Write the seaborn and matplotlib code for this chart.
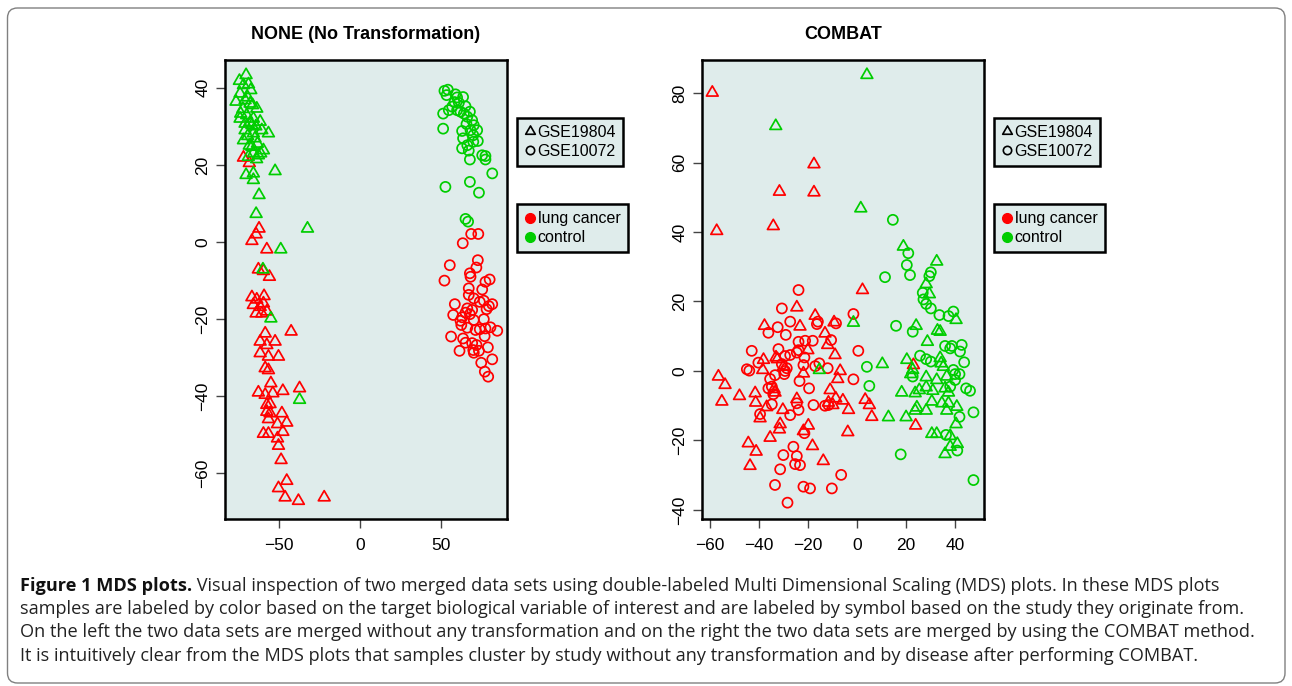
import matplotlib
matplotlib.use("Agg")
import matplotlib.pyplot as plt
from matplotlib.lines import Line2D
from matplotlib.patches import FancyBboxPatch
from matplotlib.path import Path
import pandas as pd
import seaborn as sns

## Data

# NONE (No Transformation) panel
none_tri_ctrl_x = [-70.5, -74.6, -72.1, -69.0, -67.6, -74.2, -76.7, -71.1, -68.0, -63.9, -73.8, -70.1, -66.0,
                   -61.8, -74.2, -71.1, -66.9, -60.8, -56.7, -71.1, -66.0, -72.1, -65.0, -66.9, -59.8, -66.0,
                   -62.9, -69.1, -70.5, -66.0, -66.0, -52.6, -62.5, -64.3, -32.6, -49.1, -60.1, -55.2, -37.5,
                   -69.5, -66.5, -72.5, -68.0, -64.5, -69.5, -63.5, -68.5, -64.0, -61.5]
none_tri_ctrl_y = [43.3, 41.8, 40.7, 40.9, 39.4, 38.5, 36.4, 36.8, 35.9, 34.6, 33.3, 32.9, 32.0,
                   31.2, 32.0, 30.7, 30.3, 29.0, 28.2, 29.0, 28.2, 26.4, 26.9, 24.7, 23.8, 23.0,
                   22.5, 22.1, 17.4, 17.8, 16.1, 18.4, 12.2, 7.3, 3.5, -1.9, -7.1, -19.8, -40.9,
                   37.5, 35.5, 34.5, 31.0, 30.0, 27.5, 25.5, 25.0, 21.5, 23.0]

none_tri_case_x = [-72.1, -68.5, -62.5, -64.3, -66.9, -57.7, -62.9, -59.8, -56.1, -66.9, -63.9, -59.4, -66.0,
                   -61.8, -59.8, -64.3, -60.8, -57.7, -58.7, -61.8, -52.6, -57.7, -42.7, -61.8, -56.7, -50.5,
                   -58.7, -56.7, -55.2, -62.9, -58.7, -54.0, -47.8, -37.5, -57.7, -55.7, -57.7, -55.7, -48.4,
                   -56.7, -51.1, -45.4, -59.8, -56.7, -47.8, -51.1, -50.5, -48.9, -45.4, -50.5, -46.4, -38.2,
                   -22.3]
none_tri_case_y = [21.9, 20.5, 3.5, 2.0, 0.3, -1.9, -7.1, -7.5, -9.0, -14.3, -14.9, -14.0, -16.3,
                   -16.8, -15.9, -18.5, -18.5, -18.0, -23.7, -25.8, -25.8, -26.7, -23.2, -28.8, -29.7, -29.7,
                   -32.7, -33.2, -36.6, -39.0, -39.6, -39.2, -38.6, -37.9, -42.2, -42.0, -44.0, -44.4, -44.4,
                   -45.9, -47.2, -46.8, -49.7, -49.7, -49.2, -50.9, -52.8, -56.5, -61.9, -63.8, -66.2, -67.1,
                   -66.2]

none_circ_ctrl_x = [51.9, 54.0, 53.2, 58.7, 59.7, 63.4, 58.1, 60.8, 64.9, 56.7, 54.6, 59.7, 61.8, 63.9,
                    67.6, 51.1, 66.0, 69.0, 65.5, 70.0, 68.0, 72.1, 62.8, 51.1, 69.7, 63.4, 72.5, 69.7,
                    66.0, 62.8, 66.9, 75.2, 77.2, 77.2, 67.6, 81.4, 67.6, 52.5, 73.2, 64.9, 66.5]
none_circ_ctrl_y = [39.2, 39.5, 38.1, 38.3, 37.5, 37.6, 36.3, 36.1, 35.2, 35.1, 34.2, 34.2, 33.8, 33.3,
                    33.8, 33.3, 32.5, 31.6, 30.6, 30.3, 29.0, 29.0, 28.8, 29.4, 27.7, 26.9, 26.2, 26.0,
                    25.1, 24.3, 23.7, 22.5, 22.3, 21.4, 21.4, 17.8, 15.6, 14.3, 12.8, 6.0, 5.3]

none_circ_case_x = [68.4, 72.8, 63.2, 55.2, 72.5, 71.6, 67.6, 68.0, 51.9, 77.2, 79.8, 75.2, 66.9, 66.9,
                    70.0, 73.7, 76.2, 81.4, 58.3, 79.3, 77.9, 66.0, 69.0, 64.9, 67.6, 57.3, 62.8, 61.8,
                    70.0, 76.2, 62.3, 66.0, 71.1, 73.7, 77.2, 80.3, 84.5, 76.7, 56.0, 63.4, 64.9, 69.0,
                    71.7, 69.7, 70.0, 73.2, 78.7, 61.2, 81.4, 74.6, 76.8, 78.9]
none_circ_case_y = [2.1, 2.1, -0.3, -6.0, -4.7, -6.6, -8.1, -9.0, -10.0, -10.3, -9.7, -12.3, -12.0, -13.7,
                    -14.6, -15.5, -15.2, -16.1, -16.1, -16.6, -17.4, -17.2, -17.6, -18.3, -18.7, -18.9, -19.5, -20.4,
                    -20.2, -20.0, -21.5, -22.2, -22.8, -22.6, -22.4, -22.1, -23.0, -24.4, -24.5, -25.0, -26.1, -26.2,
                    -26.7, -28.0, -28.7, -28.2, -27.3, -28.2, -30.4, -31.3, -33.6, -34.9]

# COMBAT panel
combat_tri_case_x = [-59.1, -17.6, -31.7, -17.6, -57.3, -34.2, 2.2, -24.6, -17.1, -9.4, -37.8, -23.3, -13.1,
                     -12.0, -9.0, -20.1, -33.1, -38.2, -32.5, -30.1, -6.9, -21.9, -38.5, -56.6, -53.9, -7.9,
                     -33.9, -11.0, -41.6, -33.5, -48.0, -55.2, -41.4, -24.6, -8.7, -5.8, -11.7, -9.9, -3.5,
                     -36.9, -30.3, -39.6, -31.4, -31.7, -19.9, -21.9, -35.5, -3.8, -44.4, -18.2, -41.2, -43.7,
                     -13.8, 23.0, 3.3, 5.0, 6.0, 23.9]
combat_tri_case_y = [80.1, 59.5, 51.6, 51.4, 40.3, 41.7, 23.3, 18.3, 15.9, 14.0, 13.0, 12.8, 10.8,
                     7.5, 4.6, 6.0, 3.9, 3.2, 3.4, 1.2, 0.0, -0.7, 0.3, -1.6, -4.0, -2.3,
                     -5.2, -5.5, -6.4, -6.2, -7.2, -8.8, -9.1, -8.1, -7.9, -8.5, -9.1, -9.8, -11.2,
                     -10.4, -11.2, -13.6, -15.3, -16.8, -15.7, -17.3, -19.2, -17.6, -20.8, -21.6, -23.2, -27.3,
                     -25.9, 1.7, -8.3, -9.8, -13.2, -15.7]

combat_circ_case_x = [-23.9, -30.7, -27.3, -16.0, -16.4, -8.6, -1.5, -32.4, -36.2, -29.1, -23.9, -21.2, -18.1,
                      -10.6, -43.0, -32.1, -23.9, -24.6, -27.3, -29.4, -21.5, -40.3, -30.7, -28.7, -29.4, -45.0,
                      -44.0, -21.9, -17.1, -15.4, -12.0, -33.5, -29.7, -35.5, -23.5, -1.5, 0.5, -36.2, -34.8,
                      -19.6, -34.2, -34.8, -24.6, -23.9, -17.8, -13.1, -11.7, -39.6, -27.3, -21.5, -26.0, -30.1,
                      -24.6, -25.3, -23.3, -31.4, -6.5, -33.5, -21.9, -19.2, -10.3, -28.4]
combat_circ_case_y = [23.3, 18.0, 14.2, 14.2, 13.5, 13.7, 16.4, 12.6, 11.0, 10.4, 8.4, 8.7, 8.7,
                      8.9, 5.8, 6.3, 6.0, 5.3, 4.6, 4.3, 3.9, 2.4, 2.0, 0.8, 0.0, 0.5,
                      0.1, 1.7, 1.4, 2.2, 0.8, -1.2, -0.9, -2.3, -2.9, -2.4, 5.8, -5.0, -4.5,
                      -5.0, -6.7, -9.6, -9.3, -11.2, -9.8, -10.0, -9.8, -12.4, -12.7, -17.9, -21.8, -24.2,
                      -24.5, -26.8, -27.1, -28.3, -29.9, -32.8, -33.3, -33.8, -33.8, -37.9]

combat_tri_ctrl_x = [4.0, -33.2, 1.5, -1.5, -15.4, 18.9, 32.5, 28.2, 29.5, 24.1, 32.8, 33.9, 40.4, 28.7,
                     10.3, 20.3, 22.7, 21.9, 28.2, 32.5, 33.9, 35.2, 36.6, 18.2, 23.7, 25.4, 28.2, 30.9,
                     35.9, 37.3, 30.5, 34.6, 37.3, 40.7, 24.4, 23.7, 28.2, 36.6, 12.8, 20.0, 40.4, 30.5,
                     32.5, 38.0, 38.0, 40.9, 35.9, 34.3]
combat_tri_ctrl_y = [85.2, 70.5, 46.8, 13.9, 0.3, 35.8, 31.5, 25.0, 22.1, 13.0, 11.6, 11.3, 14.7, 8.4,
                     2.0, 3.2, 0.3, -0.9, -1.8, -2.6, 3.7, 1.2, -1.6, -6.2, -6.4, -5.5, -4.7, -5.7,
                     -5.0, -6.2, -8.8, -9.3, -9.3, -10.3, -10.5, -11.4, -11.4, -11.4, -13.3, -13.3, -15.3, -18.1,
                     -18.1, -18.7, -21.8, -21.0, -23.9, 2.2]

combat_circ_ctrl_x = [14.6, 20.9, 20.3, 21.6, 11.4, 30.1, 29.5, 26.8, 27.1, 28.2, 30.1, 33.6, 37.3, 39.3,
                      15.9, 22.7, 35.9, 38.0, 38.7, 42.7, 42.0, 25.7, 28.2, 30.1, 43.7, 4.0, 5.0, 22.7,
                      39.3, 40.0, 41.8, 40.0, 38.0, 44.5, 46.1, 47.5, 41.8, 36.3, 40.9, 17.8, 47.5]
combat_circ_ctrl_y = [43.5, 33.9, 30.5, 27.6, 27.0, 28.4, 27.3, 22.5, 20.6, 19.3, 18.0, 16.1, 15.8, 17.1,
                      13.0, 11.3, 7.2, 6.5, 7.2, 7.5, 5.6, 4.4, 3.4, 2.7, 2.5, 1.2, -4.3, -1.6,
                      0.3, -0.9, -0.9, -2.6, -4.5, -5.0, -5.7, -11.9, -13.2, -18.4, -22.9, -24.0, -31.4]

studies = ["GSE19804", "GSE10072"]
groups = ["lung cancer", "control"]
titles = ["NONE (No Transformation)", "COMBAT"]

caption_bold = "Figure 1 MDS plots."
caption_lines = [
    "Visual inspection of two merged data sets using double-labeled Multi Dimensional Scaling (MDS) plots. In these MDS plots",
    "samples are labeled by color based on the target biological variable of interest and are labeled by symbol based on the study they originate from.",
    "On the left the two data sets are merged without any transformation and on the right the two data sets are merged by using the COMBAT method.",
    "It is intuitively clear from the MDS plots that samples cluster by study without any transformation and by disease after performing COMBAT.",
]


def panel_frame(sets):
    parts = []
    for study, group, xs, ys in sets:
        d = pd.DataFrame({"x": xs, "y": ys})
        d["study"] = study
        d["group"] = group
        parts.append(d)
    return pd.concat(parts, ignore_index=True)


df_none = panel_frame([
    ("GSE19804", "lung cancer", none_tri_case_x, none_tri_case_y),
    ("GSE10072", "lung cancer", none_circ_case_x, none_circ_case_y),
    ("GSE19804", "control", none_tri_ctrl_x, none_tri_ctrl_y),
    ("GSE10072", "control", none_circ_ctrl_x, none_circ_ctrl_y),
])
df_combat = panel_frame([
    ("GSE19804", "lung cancer", combat_tri_case_x, combat_tri_case_y),
    ("GSE10072", "lung cancer", combat_circ_case_x, combat_circ_case_y),
    ("GSE19804", "control", combat_tri_ctrl_x, combat_tri_ctrl_y),
    ("GSE10072", "control", combat_circ_ctrl_x, combat_circ_ctrl_y),
])

## Styling

sns.set_theme(style="ticks")
plt.rcParams["font.family"] = ["Liberation Sans", "DejaVu Sans"]
plt.rcParams["text.color"] = "black"

bg = "#DFECEB"
colors = {"lung cancer": "#FF0000", "control": "#00CD00"}
# R pch=2 style open triangle (closed path)
tri = Path([(0, 1), (-0.866, -0.5), (0.866, -0.5), (0, 1)],
           [Path.MOVETO, Path.LINETO, Path.LINETO, Path.CLOSEPOLY])
markers = {"GSE19804": tri, "GSE10072": "o"}
sizes = {"GSE19804": 95, "GSE10072": 52}

fig = plt.figure(figsize=(12.92, 6.86), dpi=100)
fig.patch.set_facecolor("white")

ax1 = fig.add_axes([225 / 1292, 1 - 519 / 686, 282 / 1292, 459 / 686])
ax2 = fig.add_axes([702 / 1292, 1 - 519 / 686, 282 / 1292, 459 / 686])

panels = [
    (ax1, df_none, (-83.5, 90.5), (-71.8, 47.2), [-50, 0, 50], [-60, -40, -20, 0, 20, 40]),
    (ax2, df_combat, (-63.3, 51.8), (-42.6, 89.5), [-60, -40, -20, 0, 20, 40], [-40, -20, 0, 20, 40, 60, 80]),
]

for i, (ax, data, xlim, ylim, xt, yt) in enumerate(panels):
    ax.set_facecolor(bg)
    for group in groups:
        for study in studies:
            sub = data[(data["study"] == study) & (data["group"] == group)]
            c = colors[group]
            sns.scatterplot(data=sub, x="x", y="y", ax=ax, marker=markers[study], s=sizes[study],
                            color=c, facecolors="none", edgecolor=c, linewidth=1.25, legend=False)
    ax.set_xlim(xlim)
    ax.set_ylim(ylim)
    ax.set_xticks(xt)
    ax.set_yticks(yt)
    ax.set_xlabel("")
    ax.set_ylabel("")
    ax.set_title(titles[i], fontsize=13, fontweight="bold", pad=15, color="black")
    for sp in ax.spines.values():
        sp.set_visible(True)
        sp.set_color("black")
        sp.set_linewidth(1.8)
    ax.tick_params(axis="both", length=6.5, width=1, color="#444444", labelsize=12.5, labelcolor="black")
    ax.tick_params(axis="x", pad=7)
    ax.tick_params(axis="y", pad=4, labelrotation=90)
    for lab in ax.get_yticklabels():
        lab.set_verticalalignment("center")

    # legends outside the plotting box, R style
    h1 = [Line2D([], [], ls="none", marker=tri, mfc="none", mec="black", ms=8, mew=1.2),
          Line2D([], [], ls="none", marker="o", mfc="none", mec="black", ms=6, mew=1.2)]
    leg1 = ax.legend(h1, studies, loc="upper left", bbox_to_anchor=(1.035, 0.874), borderaxespad=0,
                     fontsize=11.5, handlelength=0.7, handletextpad=0.15, labelspacing=0.25,
                     borderpad=0.45, fancybox=False, framealpha=1, facecolor=bg, edgecolor="black",
                     labelcolor="black")
    leg1.get_frame().set_linewidth(1.8)
    ax.add_artist(leg1)
    h2 = [Line2D([], [], ls="none", marker="o", mfc=colors[g], mec=colors[g], ms=7) for g in groups]
    leg2 = ax.legend(h2, groups, loc="upper left", bbox_to_anchor=(1.035, 0.686), borderaxespad=0,
                     fontsize=11.5, handlelength=0.7, handletextpad=0.15, labelspacing=0.25,
                     borderpad=0.45, fancybox=False, framealpha=1, facecolor=bg, edgecolor="black",
                     labelcolor="black")
    leg2.get_frame().set_linewidth(1.8)

## Caption and outer rounded frame

frame = FancyBboxPatch((0.075, 0.03), 12.775, 6.75, boxstyle="round,pad=0,rounding_size=0.1",
                       transform=fig.dpi_scale_trans, facecolor="none", edgecolor="#808080", linewidth=1)
fig.patches.append(frame)

cap_font = ["Open Sans", "DejaVu Sans"]
cap_size = 13.1
line_h = 23.2
base_y = 591
t0 = fig.text(20 / 1292, 1 - base_y / 686, caption_bold, fontsize=cap_size, fontweight="bold",
              family=cap_font, color="#111111", va="baseline", ha="left")
ax1.annotate(" " + caption_lines[0], xy=(1, 0), xycoords=t0, va="bottom", ha="left",
             fontsize=cap_size, family=cap_font, color="#222222", annotation_clip=False)
for k, line in enumerate(caption_lines[1:], start=1):
    fig.text(20 / 1292, 1 - (base_y + k * line_h) / 686, line, fontsize=cap_size, family=cap_font,
             color="#222222", va="baseline", ha="left")

fig.savefig("out.png", dpi=100, facecolor="white")
